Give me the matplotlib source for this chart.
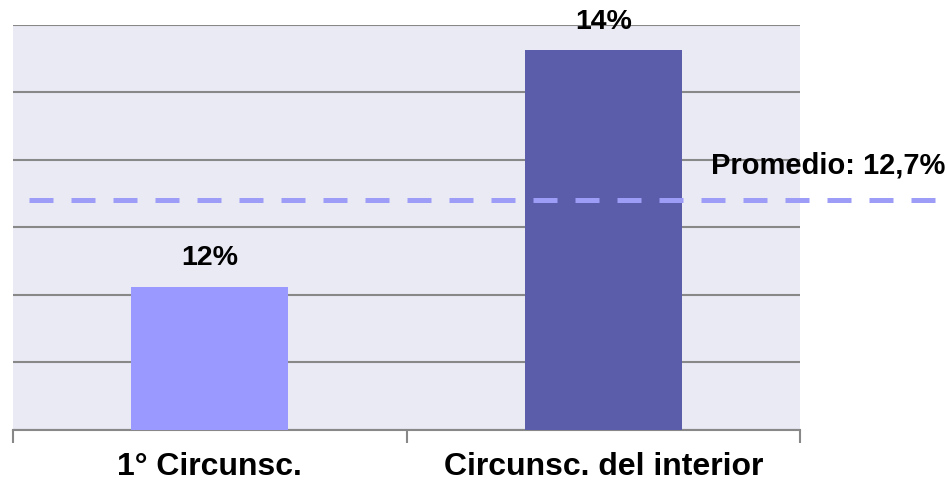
import matplotlib.pyplot as plt
from matplotlib.transforms import blended_transform_factory

categorias = ['1° Circunsc.', 'Circunsc. del interior']
valores = [12.06, 13.81]
etiquetas = ['12%', '14%']
promedio = 12.7
etiqueta_promedio = 'Promedio: 12,7%'

plt.rcParams['font.family'] = ['Liberation Sans', 'DejaVu Sans']

fig = plt.figure(figsize=(9.48, 4.82), dpi=100)
ax = fig.add_axes([13 / 948, 52 / 482, 787 / 948, 405.5 / 482])
ax.set_facecolor('#EAEAF4')

x = list(range(len(categorias)))
ax.bar(x, valores, width=0.4, color=['#9999FF', '#5B5DAB'], zorder=3)

for xi, v, t in zip(x, valores, etiquetas):
    ax.annotate(t, (xi, v), xytext=(0, 11), textcoords='offset points',
                ha='center', va='bottom', fontsize=20.5, fontweight='bold')

ax.set_xlim(-0.5, len(categorias) - 0.5)
ax.set_ylim(11, 14)
ax.set_yticks([11 + 0.5 * i for i in range(7)])
ax.tick_params(axis='y', left=False, labelleft=False)
ax.grid(axis='y', color='#888888', linewidth=1.5, zorder=1)

ax.set_xticks(x, categorias, fontsize=23, fontweight='bold')
ax.set_xticks([i - 0.5 for i in range(len(categorias) + 1)], minor=True)
ax.tick_params(axis='x', which='major', length=0, pad=16)
ax.tick_params(axis='x', which='minor', length=9, width=1.5, color='#888888')

for s in ['top', 'left', 'right']:
    ax.spines[s].set_visible(False)
ax.spines['bottom'].set_color('#888888')
ax.spines['bottom'].set_linewidth(1.5)

# linea de promedio, se extiende fuera del area
tr = blended_transform_factory(fig.transFigure, ax.transData)
ax.plot([29 / 948, 935 / 948], [promedio, promedio], transform=tr,
        color='#9D9DF8', linewidth=3.6, dashes=(4.8, 3.6), clip_on=False, zorder=4)
ax.annotate(etiqueta_promedio, (945 / 948, promedio), xycoords=tr,
            xytext=(0, 25), textcoords='offset points',
            ha='right', va='center', fontsize=21, fontweight='bold')

fig.savefig('out.png', dpi=100)
